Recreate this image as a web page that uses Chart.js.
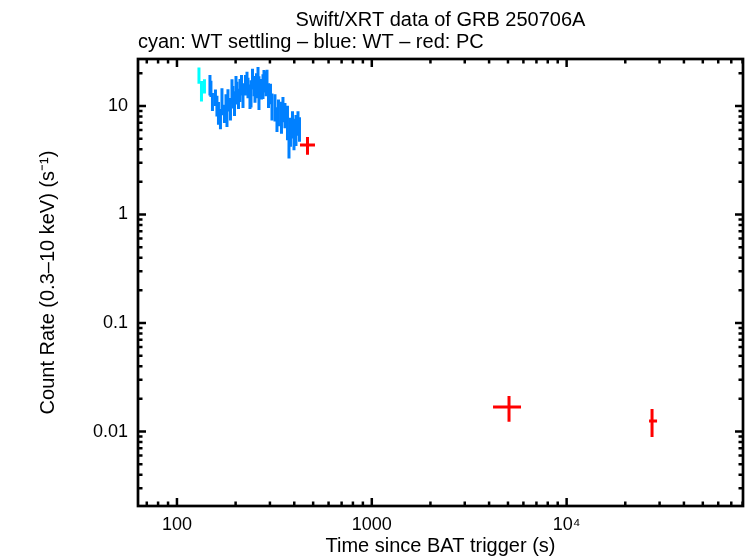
<!DOCTYPE html>
<html>
<head>
<meta charset="utf-8">
<script src="https://cdn.jsdelivr.net/npm/chart.js@4.4.1/dist/chart.umd.min.js"></script>
<style>
  html, body { margin: 0; padding: 0; background: #fff; }
  canvas { display: block; }
</style>
</head>
<body>
<canvas id="lc" width="746" height="558"></canvas>
<script>
const titleText = 'Swift/XRT data of GRB 250706A';
const subtitleText = 'cyan: WT settling \u2013 blue: WT \u2013 red: PC';
const xAxisTitle = 'Time since BAT trigger (s)';
const yAxisTitle = 'Count Rate (0.3\u201310 keV) (s\u207B\u00B9)';

const xTickValues = [100, 1000, 10000];
const xTickLabels = ['100', '1000', '10\u2074'];
const yTickValues = [0.01, 0.1, 1, 10];
const yTickLabels = ['0.01', '0.1', '1', '10'];

// WT settling (cyan)
const settleTime = [129.7, 133.6, 138.4];
const settleRate = [19.3, 14.0, 15.3];
const settleErr = [3.3, 3.0, 2.3];

// WT (blue)
const wtTime = [147.7, 149.4, 152.1, 157.6, 160.4, 163.3, 167.2, 170.2, 175.3, 178.5,
  180.6, 182.7, 188.2, 191.6, 193.9, 197.4, 200.9, 203.3, 206.9, 210.6,
  214.4, 218.2, 224.7, 228.8, 231.5, 237.0, 239.9, 244.2, 248.5, 251.5,
  256.0, 260.6, 263.6, 271.6, 276.4, 279.7, 286.4, 289.8, 295.0, 302.0,
  307.4, 318.5, 326.1, 331.9, 343.9, 350.0, 358.4, 369.2, 375.8, 382.5,
  391.7, 398.7, 408.2, 418.0, 425.5];
const wtRate = [15.9, 14.6, 11.1, 12.1, 10.2, 8.8, 7.75, 11.4, 8.62, 10.2,
  8.09, 11.6, 9.58, 14.0, 12.4, 10.9, 15.6, 13.5, 11.9, 14.3,
  15.9, 12.9, 15.9, 17.4, 15.0, 12.6, 13.5, 18.1, 15.6, 14.0,
  15.9, 18.9, 14.0, 14.6, 15.6, 17.4, 16.6, 18.1, 12.9, 13.2,
  10.2, 10.0, 7.75, 8.99, 8.26, 9.58, 8.44, 7.43, 4.28, 6.01,
  6.97, 5.76, 6.27, 7.12, 6.27];
const wtErr = [3.4, 2.5, 2.1, 2.1, 2.2, 2.1, 1.65, 3.2, 1.65, 2.6,
  1.7, 2.7, 2.25, 3.6, 2.9, 2.8, 3.3, 3.2, 2.5, 3.4,
  3.4, 3.3, 3.4, 3.3, 3.2, 3.2, 3.8, 3.9, 3.3, 3.3,
  4.1, 4.0, 4.8, 3.1, 4.0, 4.1, 4.3, 3.5, 3.3, 2.8,
  2.85, 2.8, 2.0, 2.5, 2.7, 2.5, 2.2, 2.6, 1.0, 1.8,
  1.95, 1.85, 2.0, 1.8, 1.6];

// PC (red)
const pcTime = [467.7, 5062, 27440];
const pcTimeLo = [428, 4191, 26490];
const pcTimeHi = [511, 5833, 29120];
const pcRate = [4.37, 0.0168, 0.0125];
const pcErr = [0.81, 0.0045, 0.0036];

const fontFamily = '"Liberation Sans", Arial, Helvetica, sans-serif';
Chart.defaults.font.family = fontFamily;
Chart.defaults.color = '#000';

// contiguous bins: edges half way (in log) between neighbouring times
function binPoints(t, r, e) {
  return t.map((tv, i) => {
    const prev = i > 0 ? t[i - 1] : tv * tv / t[i + 1];
    const next = i < t.length - 1 ? t[i + 1] : tv * tv / t[i - 1];
    return {x: tv, y: r[i], xMin: Math.sqrt(prev * tv), xMax: Math.sqrt(tv * next),
            yMin: r[i] - e[i], yMax: r[i] + e[i]};
  });
}

const pcPoints = pcTime.map((tv, i) => ({
  x: tv, y: pcRate[i], xMin: pcTimeLo[i], xMax: pcTimeHi[i],
  yMin: pcRate[i] - pcErr[i], yMax: pcRate[i] + pcErr[i]
}));

const errorBars = {
  id: 'errorBars',
  afterDatasetsDraw(chart) {
    const {ctx, chartArea: a, scales: {x, y}} = chart;
    ctx.save();
    ctx.beginPath();
    ctx.rect(a.left, a.top, a.right - a.left, a.bottom - a.top);
    ctx.clip();
    chart.data.datasets.forEach(ds => {
      ctx.strokeStyle = ds.borderColor;
      ctx.lineWidth = ds.errorLineWidth;
      ds.data.forEach(p => {
        const px = x.getPixelForValue(p.x);
        const py = y.getPixelForValue(p.y);
        ctx.beginPath();
        ctx.moveTo(x.getPixelForValue(p.xMin), py);
        ctx.lineTo(x.getPixelForValue(p.xMax), py);
        ctx.moveTo(px, y.getPixelForValue(Math.max(p.yMin, 1e-6)));
        ctx.lineTo(px, y.getPixelForValue(p.yMax));
        ctx.stroke();
      });
    });
    ctx.restore();
  }
};

function logTicks(min, max) {
  const out = [];
  for (let n = Math.floor(Math.log10(min)); n <= Math.ceil(Math.log10(max)); n++) {
    for (let k = 1; k <= 9; k++) {
      const v = k * Math.pow(10, n);
      if (v >= min && v <= max) out.push({v: v, major: k === 1});
    }
  }
  return out;
}

// box, inward ticks on all four sides, title lines
const frame = {
  id: 'frame',
  afterDraw(chart) {
    const {ctx, chartArea: a, scales: {x, y}} = chart;
    ctx.save();
    ctx.strokeStyle = '#000';
    ctx.lineWidth = 2.7;
    ctx.strokeRect(a.left, a.top, a.right - a.left, a.bottom - a.top);
    ctx.lineWidth = 2.5;
    ctx.beginPath();
    logTicks(x.min, x.max).forEach(t => {
      const px = x.getPixelForValue(t.v);
      const len = t.major ? 8 : 4.5;
      ctx.moveTo(px, a.bottom); ctx.lineTo(px, a.bottom - len);
      ctx.moveTo(px, a.top); ctx.lineTo(px, a.top + len);
    });
    logTicks(y.min, y.max).forEach(t => {
      const py = y.getPixelForValue(t.v);
      const len = t.major ? 8 : 4.5;
      ctx.moveTo(a.left, py); ctx.lineTo(a.left + len, py);
      ctx.moveTo(a.right, py); ctx.lineTo(a.right - len, py);
    });
    ctx.stroke();

    ctx.fillStyle = '#000';
    ctx.font = '20px ' + fontFamily;
    ctx.textBaseline = 'alphabetic';
    ctx.textAlign = 'center';
    ctx.fillText(titleText, (a.left + a.right) / 2, 26);
    ctx.textAlign = 'left';
    ctx.fillText(subtitleText, a.left, 48);
    ctx.restore();
  }
};

new Chart(document.getElementById('lc'), {
  type: 'scatter',
  data: {
    datasets: [
      {label: 'WT settling', data: binPoints(settleTime, settleRate, settleErr),
       borderColor: '#00ffff', backgroundColor: '#00ffff', pointRadius: 0, errorLineWidth: 3},
      {label: 'WT', data: binPoints(wtTime, wtRate, wtErr),
       borderColor: '#0080ff', backgroundColor: '#0080ff', pointRadius: 0, errorLineWidth: 3},
      {label: 'PC', data: pcPoints,
       borderColor: '#ff0000', backgroundColor: '#ff0000', pointRadius: 0, errorLineWidth: 3}
    ]
  },
  options: {
    responsive: false,
    animation: false,
    devicePixelRatio: 1,
    layout: {padding: {top: 59, right: 3, left: 0, bottom: 0}},
    plugins: {legend: {display: false}, tooltip: {enabled: false}},
    scales: {
      x: {
        type: 'logarithmic', position: 'bottom', min: 63.1, max: 80400,
        grid: {display: false, drawTicks: false},
        border: {display: false},
        afterBuildTicks: s => { s.ticks = xTickValues.map(v => ({value: v})); },
        afterFit: s => { s.height = 52; },
        ticks: {autoSkip: false, maxRotation: 0, padding: 8, font: {size: 18},
                callback: (v, i) => xTickLabels[i]},
        title: {display: true, text: xAxisTitle, font: {size: 20}, padding: {top: 0, bottom: 0}}
      },
      y: {
        type: 'logarithmic', position: 'left', min: 0.00206, max: 27.1,
        grid: {display: false, drawTicks: false},
        border: {display: false},
        afterBuildTicks: s => { s.ticks = yTickValues.map(v => ({value: v})); },
        afterFit: s => { s.width = 138; },
        ticks: {autoSkip: false, padding: 10, font: {size: 18},
                callback: (v, i) => yTickLabels[i]},
        title: {display: true, text: yAxisTitle, font: {size: 20}, padding: {top: 36, bottom: 0}}
      }
    }
  },
  plugins: [errorBars, frame]
});
</script>
</body>
</html>
